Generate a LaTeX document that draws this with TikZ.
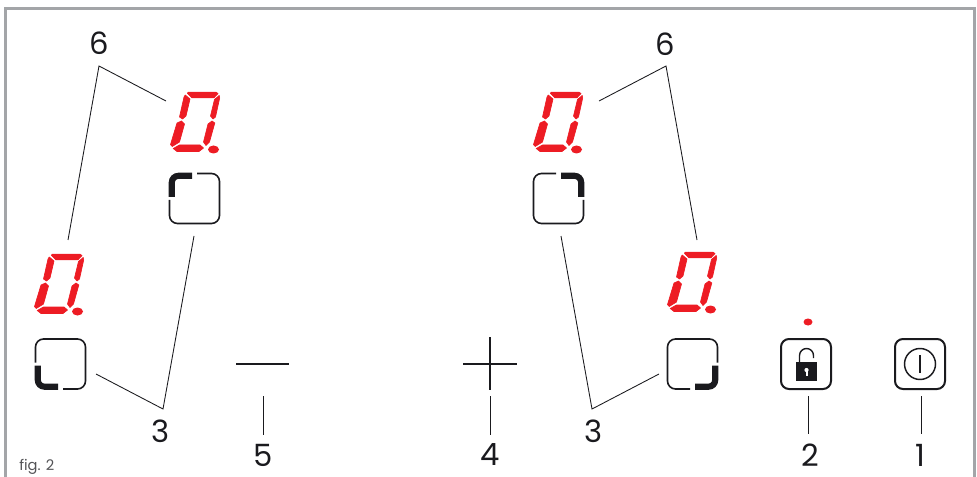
\documentclass[tikz,border=0pt]{standalone}
\usepackage{fontspec}
\setmainfont{Poppins}
\definecolor{ink}{HTML}{1A1A1E}
\definecolor{segred}{HTML}{ED1C24}
\definecolor{framegray}{HTML}{A3A5A8}
\tikzset{
  x=0.75pt,y=-0.75pt,
  leader/.style={draw=ink,line width=0.65pt},
  stroke/.style={draw=ink,line width=1pt},
  numlabel/.style={font=\fontsize{23}{24}\selectfont,text=ink,inner sep=0pt},
  figlabel/.style={font=\fontsize{11}{13}\selectfont,text=ink!75,inner sep=0pt},
  keybox/.style={draw=ink,line width=1.5pt,rounded corners=6pt},
  seg/.style={fill=segred,draw=segred,line width=0.5pt,line join=round},
  segdigit/.pic={
    \path[seg] (18,0.2)--(46,0.2)--(48,1.5)--(44,5.8)--(22,5.8)--(17.5,1.5)--cycle;
    \path[seg] (15.2,3)--(20,7)--(16,24)--(12.5,27)--(9.5,25)--(14,5)--cycle;
    \path[seg] (49.2,3.5)--(44.5,7.5)--(40.5,24)--(43,27)--(45.5,25)--(49.7,6)--cycle;
    \path[seg] (11.5,29)--(14.5,32)--(9.5,50)--(2.2,54.5)--(0.5,52.5)--(7,31)--cycle;
    \path[seg] (42,29)--(44.8,31)--(39.5,50)--(36,53.5)--(33.5,50)--(38,32)--cycle;
    \path[seg] (3.2,56.5)--(9.5,53)--(30,53)--(33.5,56)--(29,59.5)--(7,59.5)--cycle;
    \fill[segred] (43.5,57.5) ellipse [x radius=5.5,y radius=4];
  },
  cornerkey/.pic={
    \draw[ink,line width=1.2pt,rounded corners=6pt] (2.5,-25) -- (25,-25) -- (25,25) -- (-25,25) -- (-25,1.5);
    \draw[ink,line width=4.6pt,rounded corners=5pt] (-22.7,-1.5) -- (-22.7,-22.7) -- (-2.5,-22.7);
  },
}
\begin{document}
\begin{tikzpicture}
\useasboundingbox (0,0) rectangle (977,477);
% frame
\draw[framegray,line width=2.2pt] (5.5,477) -- (5.5,8.5) -- (974.5,8.5) -- (974.5,477);
% digits
\pic at (170,92) {segdigit};
\pic at (34,254) {segdigit};
\pic at (533,92) {segdigit};
\pic at (667,252) {segdigit};
% corner keys
\pic at (194.5,198.5) {cornerkey};
\pic[yscale=-1] at (60.5,364) {cornerkey};
\pic[xscale=-1] at (558.5,198.5) {cornerkey};
\pic[xscale=-1,yscale=-1] at (692.5,364) {cornerkey};
% lock key
\node[keybox,minimum width=37.5pt,minimum height=37.5pt,inner sep=0pt] (lock) at (806,364) {};
\fill[segred] (808,322) ellipse [x radius=4.5,y radius=3.5];
\fill[ink] (796,362) rectangle (817,381);
\draw[ink,line width=1.05pt] (799.5,362) -- (799.5,355.5) arc[start angle=180,end angle=360,radius=7] -- (813.5,358);
\fill[white] (806.5,370) circle [radius=2.1];
\fill[white] (805.5,370) rectangle (807.5,375.5);
% power key
\node[keybox,minimum width=37.5pt,minimum height=37.5pt,inner sep=0pt] (power) at (920,364) {};
\draw[stroke,line width=1.1pt] (920,364) circle [radius=15.5];
\draw[stroke,line width=1.1pt] (920,355) -- (920,373);
% minus and plus
\coordinate (minusL) at (236,364);
\coordinate (minusR) at (289,364);
\draw[stroke] (minusL) -- (minusR);
\coordinate (plusL) at (463,364);
\coordinate (plusR) at (517,364);
\coordinate (plusT) at (490,337);
\coordinate (plusB) at (490,390);
\draw[stroke] (plusL) -- (plusR);
\draw[stroke] (plusT) -- (plusB);
% labels
\node[numlabel] (six1) at (99,43) {6};
\node[numlabel] (six2) at (665,44) {6};
\node[numlabel] (three1) at (161,431) {3};
\node[numlabel] (three2) at (594,431) {3};
\node[numlabel] (five) at (263,455) {5};
\node[numlabel] (four) at (490,455) {4};
\node[numlabel] (two) at (810,455) {2};
\node[numlabel] (one) at (920,455) {1};
\node[figlabel,anchor=west] (fig) at (19,467) {fig. 2};
% leader apexes and free ends
\coordinate (a6l) at (99,66);
\coordinate (a6r) at (666,66);
\coordinate (a3l) at (163,409);
\coordinate (a3r) at (592,409);
\draw[leader] (68,240) -- (a6l) -- (166,101);
\draw[leader] (697,240) -- (a6r) -- (599,101);
\draw[leader] (96,374) -- (a3l) -- (194,236);
\draw[leader] (659,374) -- (a3r) -- (561,236);
\coordinate (t5) at (263,396); \coordinate (b5) at (263,435);
\coordinate (t4) at (490,396); \coordinate (b4) at (490,435);
\coordinate (t2) at (808,396); \coordinate (b2) at (808,434);
\coordinate (t1) at (921,396); \coordinate (b1) at (921,434);
\draw[leader] (t5) -- (b5);
\draw[leader] (t4) -- (b4);
\draw[leader] (t2) -- (b2);
\draw[leader] (t1) -- (b1);
\end{tikzpicture}
\end{document}
